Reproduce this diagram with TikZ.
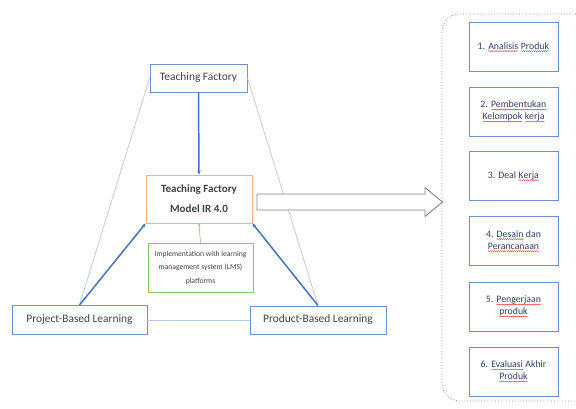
\documentclass[tikz,border=0pt]{standalone}
\usepackage{fontspec}
\setmainfont{Carlito}
\usepackage{xcolor}
\definecolor{clLine}{HTML}{B4C7E7}
\definecolor{clBlue}{HTML}{4472C4}
\definecolor{clBox}{HTML}{6F8FD0}
\definecolor{clOrange}{HTML}{F4B183}
\definecolor{clGreen}{HTML}{8CC36A}
\definecolor{clText}{HTML}{404040}
\definecolor{clStep}{HTML}{2F3F6B}
\usetikzlibrary{arrows.meta,positioning,decorations.pathmorphing}
\newcommand{\spell}[1]{\tikz[baseline=(w.base)]{\node[draw=none, inner sep=0pt, outer sep=0pt,
    minimum width=0pt, minimum height=0pt] (w) {#1};
  \draw[red!80, line width=0.4pt, decorate, decoration={snake, amplitude=0.5pt, segment length=2pt}]
    ([yshift=-2pt]w.base west) -- ([yshift=-2pt]w.base east);}}
\tikzset{
  box/.style={rectangle, draw, align=center, inner sep=2pt, text=clText},
  side/.style={box, draw=clBox, line width=0.9pt, font=\fontsize{11.4}{13}\selectfont},
  core/.style={box, draw=clOrange, line width=0.9pt, font=\bfseries\fontsize{11}{20}\selectfont,
               minimum width=106pt, minimum height=48pt},
  lmsbox/.style={box, draw=clGreen, line width=0.8pt, font=\fontsize{7.6}{13.5}\selectfont,
                 minimum width=105pt, minimum height=49pt},
  stepbox/.style={box, draw=clBox, line width=0.9pt, text=clStep, font=\fontsize{9.8}{12}\selectfont,
                  minimum width=89pt, minimum height=49pt},
  thin/.style={draw=clLine, line width=0.7pt},
  flow/.style={-{Stealth[length=4pt,width=3.5pt]}, draw=clBlue, line width=1.5pt},
  gflow/.style={-{Stealth[length=3pt,width=2.5pt]}, draw=clGreen, line width=0.6pt},
}

\begin{document}
\begin{tikzpicture}[x=1pt,y=-1pt]
  \clip (0,0) rectangle (576,408);
  \useasboundingbox (0,0) rectangle (576,408);

  % left triangle
  \node[side, minimum width=97pt, minimum height=28pt] (tf) at (198.5,78) {Teaching Factory};
  \node[core] (model) at (199,199) {Teaching Factory\\Model IR 4.0};
  \node[lmsbox] (lms) at (200.5,267.5) {Implementation with learning\\management system (LMS)\\platforms};
  \node[side, minimum width=135pt, minimum height=29pt] (pjbl) at (79.5,320) {Project-Based Learning};
  \node[side, minimum width=136pt, minimum height=28pt] (pdbl) at (318,320) {Product-Based Learning};

  \draw[thin] (tf.west) -- (pjbl.north);
  \draw[thin] (tf.east) -- (pdbl.north);
  \draw[thin] (pjbl.east) -- (pdbl.west);

  \draw[flow] (tf.south) -- (model.north);
  \draw[flow] (pjbl.north) -- (model.south west);
  \draw[flow] (pdbl.north) -- (model.south east);
  \draw[gflow] (lms.north) -- (model.south);

  % big arrow to the steps
  \draw[gray, fill=white, line width=0.9pt] (257,194) -- (425,194) -- (425,187.5) -- (442.5,202)
    -- (425,216.5) -- (425,210) -- (257,210) -- cycle;

  % steps
  \draw[draw=clBlue!80, dotted, line width=0.8pt, rounded corners=18pt] (442,14) rectangle (592,401);
  \node[stepbox] (s1) at (513.5,47) {1. \spell{Analisis} \spell{Produk}};
  \node[stepbox] (s2) at (513.5,111.5) {2. \spell{Pembentukan}\\\spell{Kelompok} \spell{kerja}};
  \node[stepbox] (s3) at (513.5,176) {3. Deal \spell{Kerja}};
  \node[stepbox] (s4) at (513.5,241) {4. \spell{Desain} dan\\\spell{Perancanaan}};
  \node[stepbox] (s5) at (513.5,306.5) {5. \spell{Pengerjaan}\\\spell{produk}};
  \node[stepbox] (s6) at (513.5,371.5) {6. \spell{Evaluasi} Akhir\\\spell{Produk}};
\end{tikzpicture}
\end{document}
